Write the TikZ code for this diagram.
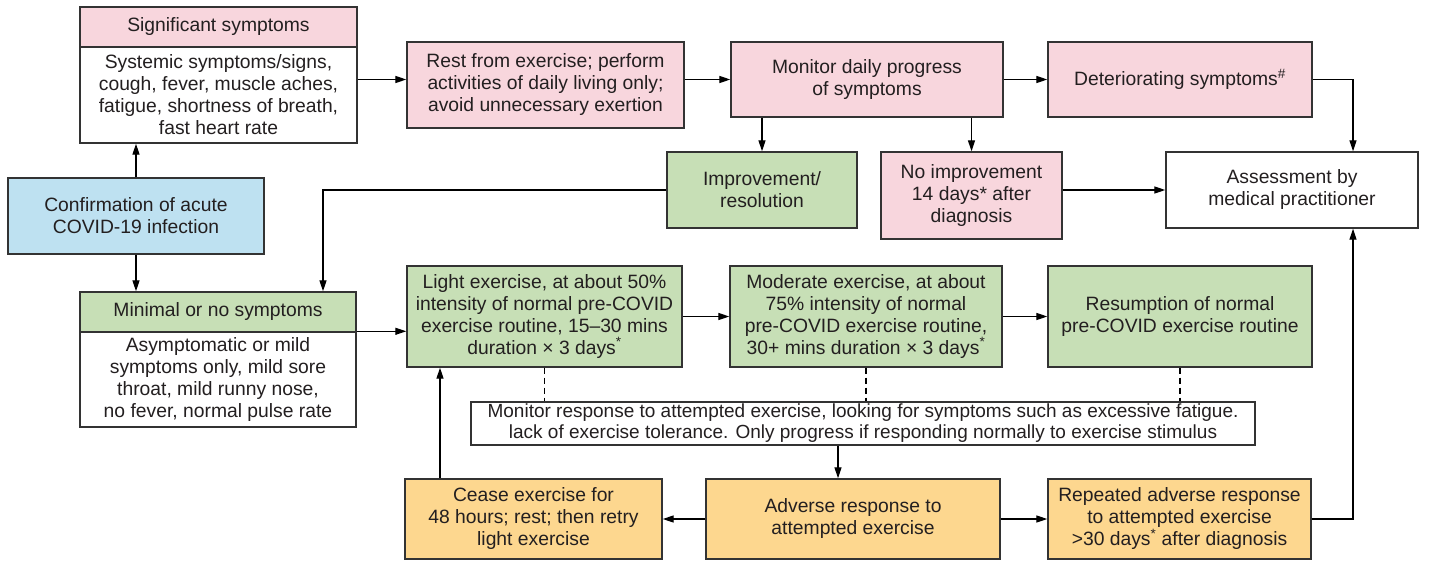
\documentclass[tikz,border=0pt]{standalone}
\usepackage{fontspec}
\setmainfont{Liberation Sans}
\usetikzlibrary{arrows.meta}
\definecolor{pinkfill}{HTML}{F8D6DD}
\definecolor{greenfill}{HTML}{C7DFB6}
\definecolor{bluefill}{HTML}{BEE1F1}
\definecolor{orangefill}{HTML}{FDD78F}
\definecolor{edge}{HTML}{333333}
\definecolor{txt}{HTML}{231F20}
\begin{document}
\begin{tikzpicture}[x=1pt,y=-1pt,
  box/.style={draw=edge, line width=1.4pt, inner sep=0pt, align=center, text=txt,
    font=\fontsize{19.3}{22}\selectfont},
  pinkbox/.style={box, fill=pinkfill},
  greenbox/.style={box, fill=greenfill},
  bluebox/.style={box, fill=bluefill},
  orangebox/.style={box, fill=orangefill},
  whitebox/.style={box, fill=white},
  arr/.style={draw=black, line width=1.3pt, -{Triangle[length=11pt,width=7pt]}},
  link/.style={draw=black, line width=1.3pt},
  dashlink/.style={draw=black, line width=1.3pt, dash pattern=on 6pt off 4pt}]
\useasboundingbox (0,0) rectangle (1447,567);
\fill[white] (0,0) rectangle (1447,567);
% nodes
\node[pinkbox, minimum width=277pt, minimum height=40pt] (sighead) at (218.5,27) {Significant symptoms};
\node[whitebox, minimum width=277pt, minimum height=96pt] (sigbody) at (218.5,95) {Systemic symptoms/signs,\\cough, fever, muscle aches,\\fatigue, shortness of breath,\\fast heart rate};
\node[bluebox, minimum width=256pt, minimum height=76pt] (conf) at (136,216) {Confirmation of acute\\COVID-19 infection};
\node[greenbox, minimum width=276pt, minimum height=40pt] (minhead) at (218,312) {Minimal or no symptoms};
\node[whitebox, minimum width=276pt, minimum height=95pt] (minbody) at (218,379.5) {Asymptomatic or mild\\symptoms only, mild sore\\throat, mild runny nose,\\no fever, normal pulse rate};
\node[pinkbox, minimum width=277pt, minimum height=86pt] (rest) at (545.5,85) {Rest from exercise; perform\\activities of daily living only;\\avoid unnecessary exertion};
\node[pinkbox, minimum width=272pt, minimum height=75pt] (mon) at (867,79.5) {Monitor daily progress\\of symptoms};
\node[pinkbox, minimum width=264pt, minimum height=75pt] (det) at (1180,79.5) {Deteriorating symptoms\textsuperscript{\#}};
\node[greenbox, minimum width=190pt, minimum height=76pt] (imp) at (762,190) {Improvement/\\resolution};
\node[pinkbox, minimum width=181pt, minimum height=87pt] (noimp) at (971.5,195.5) {No improvement\\14 days* after\\diagnosis};
\node[whitebox, minimum width=252pt, minimum height=76pt] (assess) at (1292,190) {Assessment by\\medical practitioner};
\node[greenbox, minimum width=275pt, minimum height=101pt] (light) at (544.5,316.5) {Light exercise, at about 50\%\\intensity of normal pre-COVID\\exercise routine, 15--30 mins\\duration × 3 days\textsuperscript{*}};
\node[greenbox, minimum width=272pt, minimum height=101pt] (mod) at (866,316.5) {Moderate exercise, at about\\75\% intensity of normal\\pre-COVID exercise routine,\\30+ mins duration × 3 days\textsuperscript{*}};
\node[greenbox, minimum width=264pt, minimum height=101pt] (res) at (1180,316.5) {Resumption of normal\\pre-COVID exercise routine};
\node[whitebox, minimum width=784pt, minimum height=43pt, font=\fontsize{19}{21}\selectfont] (monresp) at (863,423.5) {Monitor response to attempted exercise, looking for symptoms such as excessive fatigue.\\lack of exercise tolerance. Only progress if responding normally to exercise stimulus};
\node[orangebox, minimum width=257pt, minimum height=80pt] (cease) at (533.5,519) {Cease exercise for\\48 hours; rest; then retry\\light exercise};
\node[orangebox, minimum width=294pt, minimum height=80pt] (adverse) at (853,519) {Adverse response to\\attempted exercise};
\node[orangebox, minimum width=263pt, minimum height=80pt] (rep) at (1179.5,519) {Repeated adverse response\\to attempted exercise\\>30 days\textsuperscript{*} after diagnosis};
% helper coordinates
\coordinate (vx) at (1353,0);
\coordinate (jx) at (323,0);
\coordinate (ax) at (838,0);
\coordinate (cx) at (440,0);
% connectors
\draw[arr] (conf.north) -- (conf.north |- sigbody.south);
\draw[arr] (conf.south) -- (conf.south |- minhead.north);
\draw[arr] (sigbody.east |- mon.west) -- (rest.west |- mon.west);
\draw[arr] (rest.east |- mon.west) -- (mon.west);
\draw[arr] (mon.east) -- (det.west);
\draw[arr] (det.east) -| (vx |- assess.north);
\draw[arr] (imp.north |- mon.south) -- (imp.north);
\draw[arr] (noimp.north |- mon.south) -- (noimp.north);
\draw[arr] (noimp.east |- assess.west) -- (assess.west);
\draw[arr] (imp.west) -| (jx |- minhead.north);
\draw[arr] (minbody.north east) -- (light.west |- minbody.north);
\draw[arr] (light.east) -- (mod.west);
\draw[arr] (mod.east) -- (res.west);
\draw[dashlink] (light.south) -- (light.south |- monresp.north);
\draw[dashlink] (mod.south) -- (mod.south |- monresp.north);
\draw[dashlink] (res.south) -- (res.south |- monresp.north);
\draw[arr] (ax |- monresp.south) -- (ax |- adverse.north);
\draw[arr] (adverse.west) -- (cease.east);
\draw[arr] (adverse.east) -- (rep.west);
\draw[arr] (cx |- cease.north) -- (cx |- light.south);
\draw[arr] (rep.east) -| (vx |- assess.south);
\end{tikzpicture}
\end{document}
